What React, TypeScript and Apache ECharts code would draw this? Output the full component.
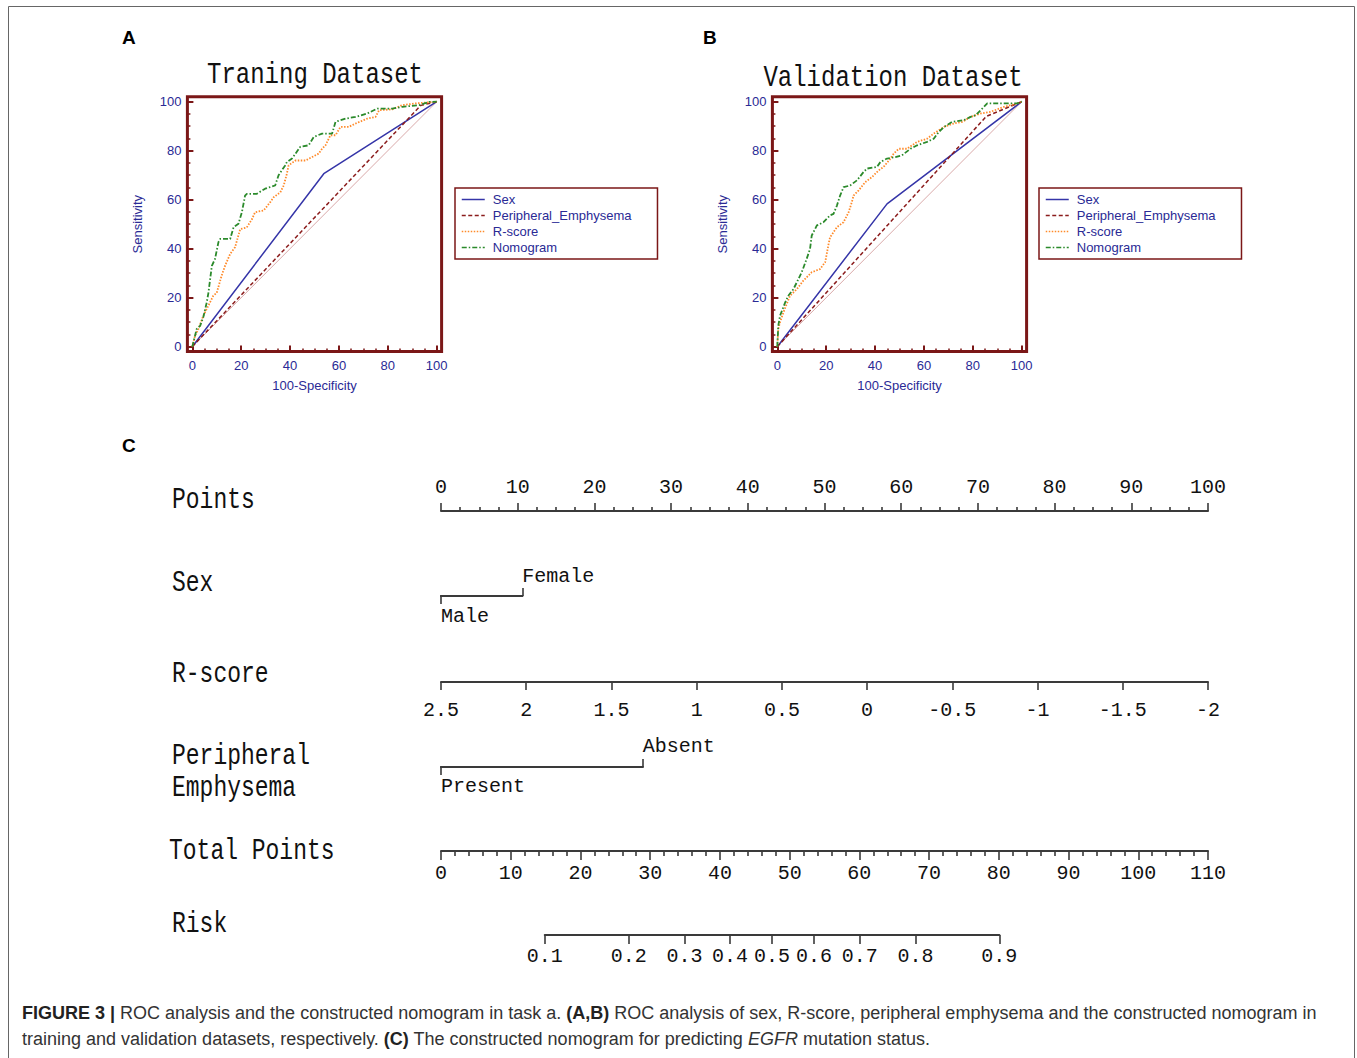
import React, { useEffect, useRef } from "react";
import * as echarts from "echarts";

// ---------- ROC data (x = 100-Specificity, y = Sensitivity) ----------
const rocTicks = [0, 20, 40, 60, 80, 100];
const rocMinorTicks = [0, 5, 10, 15, 20, 25, 30, 35, 40, 45, 50, 55, 60, 65, 70, 75, 80, 85, 90, 95, 100];
const legendNames = ["Sex", "Peripheral_Emphysema", "R-score", "Nomogram"];
const diagonal = [[0, 0], [100, 100]];

const trainSex = [[0, 0], [53.8, 70.6], [100, 100]];
const trainPE = [[0, 0], [93.5, 98.5], [100, 100]];
const trainRscore = [
  [0, 0], [1.1, 4.4], [2.5, 7.2], [4.5, 12.6], [5.2, 14], [8.6, 20.8], [10, 22], [12, 29], [13.4, 33],
  [15.5, 37.9], [17.5, 40.6], [19.6, 48], [22.3, 48.7], [24.4, 52], [25.7, 54.9], [29.2, 55.6], [31.9, 59],
  [33.3, 61], [36, 63], [37.4, 65.8], [38.7, 70.6], [39.4, 74], [42.2, 76], [46.3, 76], [49, 77.4],
  [51.7, 78.8], [53.1, 80.8], [54.5, 82.2], [56.5, 86.3], [58.6, 86.3], [60.6, 89.7], [64, 89.7],
  [66.8, 91.1], [71.6, 93.1], [75, 93.8], [76.4, 96.5], [81.8, 96.9], [85.9, 98.6], [91.4, 99.3], [100, 100],
];
const trainNomogram = [
  [0, 0], [1.8, 7.2], [3.2, 8.5], [4.5, 12], [5.9, 18], [6.6, 22], [8, 33], [9.3, 35.8], [10.7, 42.7],
  [11.4, 44], [15.5, 44], [16.9, 48.8], [18.9, 50.2], [20.3, 54.9], [21.6, 61.7], [22.3, 62.4], [26.4, 62.4],
  [29.8, 64.5], [33.9, 65.8], [35.3, 70], [38, 74], [38.7, 75.4], [40.8, 76.8], [44.2, 81.6], [47.6, 82.2],
  [49.7, 85.6], [53.1, 87], [57.2, 87], [58.6, 91.8], [62.7, 93.1], [66.8, 93.8], [71.6, 95.2],
  [75.7, 97.2], [81.8, 97.2], [85.9, 97.9], [92.8, 98.6], [96.9, 99.9], [100, 100],
];
const validSex = [[0, 0], [44.9, 58.3], [100, 100]];
const validPE = [[0, 0], [85.5, 94], [100, 100]];
const validRscore = [
  [0, 0], [0.4, 7.2], [1.1, 9.9], [2.5, 14], [5.2, 20.8], [8, 23.5], [10.7, 27], [14.1, 30.4], [17.5, 31.7],
  [19.6, 34.5], [21, 42], [21.6, 44.7], [24.4, 48.8], [27.1, 50.8], [29.2, 54.9], [30.5, 59], [31.2, 61.7],
  [33.3, 63.8], [36, 67.2], [38.7, 69.2], [41.5, 72], [43.5, 73.4], [46.3, 76.8], [47.6, 78.8], [49.7, 80.8],
  [53.1, 80.8], [57.2, 83.6], [61.3, 84.9], [64, 87], [68.2, 89.7], [72.2, 91.1], [75.7, 91.8], [79.1, 93.8],
  [83.2, 95.2], [87.3, 95.9], [92.8, 97.9], [98.2, 99.3], [100, 100],
];
const validNomogram = [
  [0, 0], [0.4, 8.5], [1.1, 12.6], [3.2, 18], [4.5, 20.8], [6.6, 23.5], [8, 26.3], [10, 30.4], [12, 35.8],
  [13.4, 39.9], [14.1, 45.4], [16.2, 49.5], [18.9, 50.8], [21.6, 53.6], [23, 54.2], [24.4, 57.6], [25.7, 61.7],
  [27.1, 65.1], [29.8, 65.8], [32.6, 67.9], [35.3, 71.3], [36.7, 72.7], [40.8, 73.4], [42.2, 75.4],
  [44.9, 76.8], [48.3, 77.4], [51, 78.1], [54.5, 80.8], [57.2, 82.2], [61.3, 83.6], [64, 84.9], [66.1, 87.7],
  [68.2, 89.7], [71.6, 91.8], [76.4, 92.5], [79.1, 93.8], [81.2, 94.5], [83.2, 96.5], [85.9, 99.3],
  [98.2, 99.3], [100, 100],
];

// ---------- Nomogram data ----------
const pointsMax = 100;
const sexLevels = ["Male", "Female"];
const sexPoints = [0, 10.6];
const rscoreMin = -2;
const rscoreMax = 2.5;
const peLevels = ["Present", "Absent"];
const pePoints = [0, 26.3];
const totalPointsMax = 110;
const riskTicks = [0.1, 0.2, 0.3, 0.4, 0.5, 0.6, 0.7, 0.8, 0.9];
const riskIntercept = -3.2;
const riskSlope = 0.0674;

// ---------- styles ----------
const frameColor = "#7b1717";
const navy = "#2a2a95";
const nomoColor = "#3a3a3a";
const sansFont = "Liberation Sans, Arial, sans-serif";
const monoFont = "Liberation Mono, Courier New, monospace";

const totalFromRisk = (p: number) => (Math.log(p / (1 - p)) - riskIntercept) / riskSlope;
const riskFromTotal = (t: number) => 1 / (1 + Math.exp(-(riskIntercept + riskSlope * t)));

export default function App() {
  const ref = useRef<HTMLDivElement>(null);

  useEffect(() => {
    if (!ref.current) return;
    const chart = echarts.init(ref.current, null, { renderer: "svg" });

    const nomoLeft = 441;
    const nomoWidth = 767;
    const pxPerPoint = nomoWidth / pointsMax;
    const pxPerTotal = nomoWidth / totalPointsMax;
    const riskMinT = totalFromRisk(riskTicks[0]);
    const riskMaxT = totalFromRisk(riskTicks[riskTicks.length - 1]);

    const baseGrid = { containLabel: false, outerBoundsMode: "none" };
    const rocGridA = { ...baseGrid, left: 187.4, top: 96.8, width: 254.2, height: 254.8, show: true, borderColor: frameColor, borderWidth: 3, backgroundColor: "transparent" };
    const rocGridB = { ...rocGridA, left: 772.4 };
    const grids = [
      rocGridA,
      rocGridB,
      { ...baseGrid, left: nomoLeft, top: 511, width: nomoWidth, height: 0 },
      { ...baseGrid, left: nomoLeft + sexPoints[0] * pxPerPoint, top: 596, width: (sexPoints[1] - sexPoints[0]) * pxPerPoint, height: 0 },
      { ...baseGrid, left: nomoLeft, top: 682, width: nomoWidth, height: 0 },
      { ...baseGrid, left: nomoLeft + pePoints[0] * pxPerPoint, top: 767, width: (pePoints[1] - pePoints[0]) * pxPerPoint, height: 0 },
      { ...baseGrid, left: nomoLeft, top: 851, width: nomoWidth, height: 0 },
      { ...baseGrid, left: nomoLeft + riskMinT * pxPerTotal, top: 935, width: (riskMaxT - riskMinT) * pxPerTotal, height: 0 },
    ];

    const rocLabel = { color: navy, fontSize: 13, fontFamily: sansFont, customValues: rocTicks };
    const rocName = { color: navy, fontSize: 13, fontFamily: sansFont };
    const rocX = (gi: number) => [
      {
        gridIndex: gi, type: "value", position: "bottom", min: -2, max: 102,
        axisLine: { show: false, onZero: false },
        axisTick: { show: true, inside: true, length: 3, customValues: rocMinorTicks, lineStyle: { color: frameColor, width: 1.5 } },
        axisLabel: { ...rocLabel, margin: 7 },
        splitLine: { show: false },
        name: "100-Specificity", nameLocation: "middle", nameGap: 27, nameTextStyle: rocName, nameMoveOverlap: false,
      },
      {
        gridIndex: gi, type: "value", position: "bottom", min: -2, max: 102,
        axisLine: { show: false, onZero: false },
        axisTick: { show: true, inside: true, length: 6, customValues: rocTicks, lineStyle: { color: frameColor, width: 2 } },
        axisLabel: { show: false },
        splitLine: { show: false },
      },
    ];
    const rocY = (gi: number) => [
      {
        gridIndex: gi, type: "value", position: "left", min: -2, max: 102,
        axisLine: { show: false, onZero: false },
        axisTick: { show: true, inside: true, length: 3, customValues: rocMinorTicks, lineStyle: { color: frameColor, width: 1.5 } },
        axisLabel: { ...rocLabel, margin: 6 },
        splitLine: { show: false },
        name: "Sensitivity", nameLocation: "middle", nameGap: 43, nameTextStyle: rocName, nameMoveOverlap: false,
      },
      {
        gridIndex: gi, type: "value", position: "left", min: -2, max: 102,
        axisLine: { show: false, onZero: false },
        axisTick: { show: true, inside: true, length: 6, customValues: rocTicks, lineStyle: { color: frameColor, width: 2 } },
        axisLabel: { show: false },
        splitLine: { show: false },
      },
    ];

    const nomoLine = { show: true, onZero: false, lineStyle: { color: nomoColor, width: 2 } };
    const nomoTick = (length: number, extra: any = {}) => ({ show: true, inside: false, length, lineStyle: { color: nomoColor, width: 1.6 }, ...extra });
    const nomoLabel = (margin: number, extra: any = {}) => ({ margin, color: "#111", fontSize: 20, fontFamily: monoFont, ...extra });
    const levelName = (levels: string[], pts: number[]) => (v: number) => {
      let best = 0;
      pts.forEach((p, i) => { if (Math.abs(p - v) < Math.abs(pts[best] - v)) best = i; });
      return levels[best];
    };

    const nomoX = [
      // Points
      {
        gridIndex: 2, type: "value", position: "top", min: 0, max: pointsMax, interval: 10,
        axisLine: nomoLine, axisTick: nomoTick(8),
        minorTick: { show: true, splitNumber: 4, length: 4, lineStyle: { color: nomoColor, width: 1.6 } },
        axisLabel: nomoLabel(14), splitLine: { show: false }, minorSplitLine: { show: false },
      },
      // Sex: lower level
      {
        gridIndex: 3, type: "value", position: "bottom", min: sexPoints[0], max: sexPoints[1],
        axisLine: nomoLine, axisTick: nomoTick(8, { customValues: [sexPoints[0]] }),
        axisLabel: nomoLabel(10, { customValues: [sexPoints[0]], align: "left", formatter: levelName(sexLevels, sexPoints) }),
        splitLine: { show: false },
      },
      // Sex: upper level
      {
        gridIndex: 3, type: "value", position: "top", min: sexPoints[0], max: sexPoints[1],
        axisLine: nomoLine, axisTick: nomoTick(8, { customValues: [sexPoints[1]] }),
        axisLabel: nomoLabel(10, { customValues: [sexPoints[1]], align: "left", formatter: levelName(sexLevels, sexPoints) }),
        splitLine: { show: false },
      },
      // R-score
      {
        gridIndex: 4, type: "value", position: "bottom", min: rscoreMin, max: rscoreMax, interval: 0.5, inverse: true,
        axisLine: nomoLine, axisTick: nomoTick(8),
        axisLabel: nomoLabel(18), splitLine: { show: false },
      },
      // Peripheral Emphysema: lower
      {
        gridIndex: 5, type: "value", position: "bottom", min: pePoints[0], max: pePoints[1],
        axisLine: nomoLine, axisTick: nomoTick(8, { customValues: [pePoints[0]] }),
        axisLabel: nomoLabel(9, { customValues: [pePoints[0]], align: "left", formatter: levelName(peLevels, pePoints) }),
        splitLine: { show: false },
      },
      // Peripheral Emphysema: upper
      {
        gridIndex: 5, type: "value", position: "top", min: pePoints[0], max: pePoints[1],
        axisLine: nomoLine, axisTick: nomoTick(8, { customValues: [pePoints[1]] }),
        axisLabel: nomoLabel(11, { customValues: [pePoints[1]], align: "left", formatter: levelName(peLevels, pePoints) }),
        splitLine: { show: false },
      },
      // Total Points
      {
        gridIndex: 6, type: "value", position: "bottom", min: 0, max: totalPointsMax, interval: 10,
        axisLine: nomoLine, axisTick: nomoTick(9),
        minorTick: { show: true, splitNumber: 5, length: 5, lineStyle: { color: nomoColor, width: 1.6 } },
        axisLabel: nomoLabel(12), splitLine: { show: false }, minorSplitLine: { show: false },
      },
      // Risk
      {
        gridIndex: 7, type: "value", position: "bottom", min: riskMinT, max: riskMaxT,
        axisLine: nomoLine,
        axisTick: nomoTick(9, { customValues: riskTicks.map(totalFromRisk) }),
        axisLabel: nomoLabel(11, { customValues: riskTicks.map(totalFromRisk), formatter: (v: number) => riskFromTotal(v).toFixed(1) }),
        splitLine: { show: false },
      },
    ];
    const nomoY = [2, 3, 4, 5, 6, 7].map((gi) => ({ gridIndex: gi, type: "value", show: false, min: 0, max: 1 }));

    const xAxis = [...rocX(0), ...rocX(1), ...nomoX];
    const yAxis = [...rocY(0), ...rocY(1), ...nomoY];

    const styles: Record<string, any> = {
      Sex: { color: "#3535a8", width: 1.5, type: "solid" },
      Peripheral_Emphysema: { color: "#8b1c1c", width: 1.5, type: [4, 2.5] },
      "R-score": { color: "#ff8a2a", width: 1.8, type: [1.5, 1.5] },
      Nomogram: { color: "#2b8a2b", width: 1.8, type: [5, 2, 1.5, 2] },
    };
    const mk = (name: string, data: number[][], xi: number, yi: number) => ({
      type: "line", name, data, xAxisIndex: xi, yAxisIndex: yi, symbol: "none", silent: true,
      lineStyle: styles[name], itemStyle: { color: styles[name].color }, z: 3,
    });
    const diag = (xi: number, yi: number) => ({
      type: "line", name: "Reference", data: diagonal, xAxisIndex: xi, yAxisIndex: yi, symbol: "none", silent: true,
      lineStyle: { color: "#d9a9a9", width: 1 }, itemStyle: { color: "#d9a9a9" }, z: 2,
    });
    const series = [
      diag(0, 0),
      mk("Sex", trainSex, 0, 0), mk("Peripheral_Emphysema", trainPE, 0, 0), mk("R-score", trainRscore, 0, 0), mk("Nomogram", trainNomogram, 0, 0),
      diag(2, 2),
      mk("Sex", validSex, 2, 2), mk("Peripheral_Emphysema", validPE, 2, 2), mk("R-score", validRscore, 2, 2), mk("Nomogram", validNomogram, 2, 2),
    ];

    const legendBase = {
      data: legendNames, orient: "vertical", top: 188, itemWidth: 23, itemHeight: 14, itemGap: 3,
      padding: [5, 26, 5, 6], borderColor: frameColor, borderWidth: 1.5, selectedMode: false,
      textStyle: { color: navy, fontSize: 13, fontFamily: sansFont, padding: [0, 0, 0, 3] },
      itemStyle: { opacity: 0 },
      lineStyle: { width: 1.5 },
    };

    const txt = (text: string, x: number, y: number, font: any, extra: any = {}) => ({
      type: "text", x, y, silent: true, ...extra,
      style: { text, fill: "#111", align: "left", verticalAlign: "middle", textAlign: "left", textVerticalAlign: "middle", ...font },
    });
    const mono = (size: number) => ({ fontSize: size, fontFamily: monoFont });
    const letter = { fontSize: 19, fontFamily: sansFont, fontWeight: "bold", fill: "#000" };
    const capBase = { fontSize: 18, fontFamily: sansFont, fill: "#333" };
    const rich = {
      n: { ...capBase },
      b: { ...capBase, fontWeight: "bold", fill: "#222" },
      i: { ...capBase, fontStyle: "italic" },
    };

    const graphic = [
      { type: "rect", silent: true, shape: { x: 8.5, y: 6.5, width: 1346, height: 1100 }, style: { fill: "none", stroke: "#666", lineWidth: 1 } },
      txt("A", 122, 37, letter),
      txt("B", 703, 37, letter),
      txt("C", 122, 445, letter),
      txt("Traning Dataset", 315, 75, { ...mono(24), align: "center", textAlign: "center" }, { scaleY: 1.25 }),
      txt("Validation Dataset", 893, 78, { ...mono(24), align: "center", textAlign: "center" }, { scaleY: 1.25 }),
      txt("Points", 172, 500, mono(23), { scaleY: 1.3 }),
      txt("Sex", 172, 583, mono(23), { scaleY: 1.3 }),
      txt("R-score", 172, 674, mono(23), { scaleY: 1.3 }),
      txt("Peripheral", 172, 756, mono(23), { scaleY: 1.3 }),
      txt("Emphysema", 172, 788, mono(23), { scaleY: 1.3 }),
      txt("Total Points", 169, 851, mono(23), { scaleY: 1.3 }),
      txt("Risk", 172, 924, mono(23), { scaleY: 1.3 }),
      {
        type: "text", x: 22, y: 1013, silent: true,
        style: {
          text: "{b|FIGURE 3 |}{n| ROC analysis and the constructed nomogram in task a. }{b|(A,B)}{n| ROC analysis of sex, R-score, peripheral emphysema and the constructed nomogram in}",
          rich, ...capBase, align: "left", verticalAlign: "middle", textAlign: "left", textVerticalAlign: "middle",
        },
      },
      {
        type: "text", x: 22, y: 1039, silent: true,
        style: {
          text: "{n|training and validation datasets, respectively. }{b|(C)}{n| The constructed nomogram for predicting }{i|EGFR}{n| mutation status.}",
          rich, ...capBase, align: "left", verticalAlign: "middle", textAlign: "left", textVerticalAlign: "middle",
        },
      },
    ];

    chart.setOption({
      animation: false,
      backgroundColor: "#ffffff",
      grid: grids,
      xAxis,
      yAxis,
      series,
      legend: [
        { ...legendBase, left: 455 },
        { ...legendBase, left: 1039 },
      ],
      graphic,
    });

    return () => chart.dispose();
  }, []);

  return (
    <div
      ref={ref}
      style={{ position: "absolute", left: 0, top: 0, width: 1357, height: 1058, background: "#fff" }}
    />
  );
}
